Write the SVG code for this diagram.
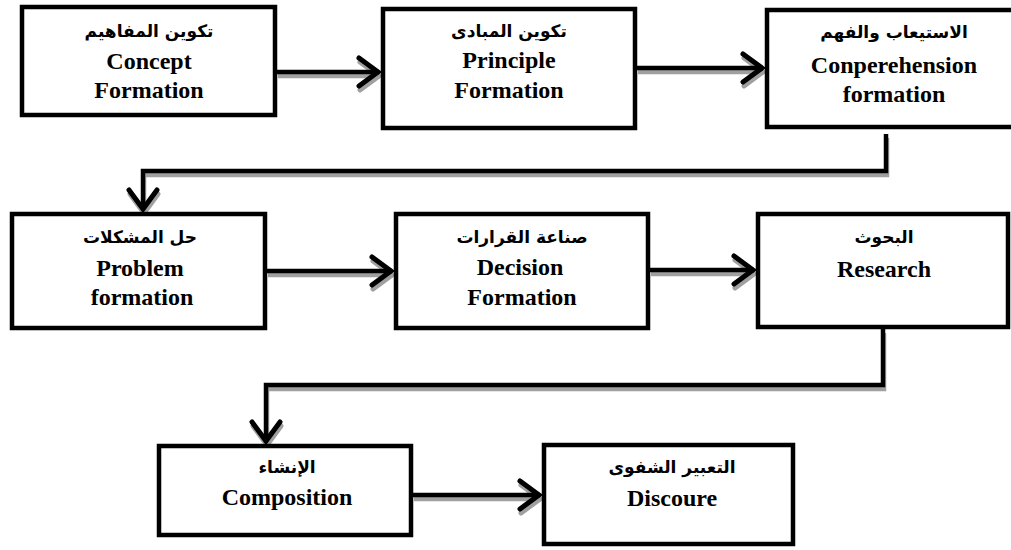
<svg xmlns="http://www.w3.org/2000/svg" width="1011" height="550" viewBox="0 0 1011 550">
<style>
.box{fill:#fff;stroke:#000;stroke-width:4.5}
.en{font-family:'Liberation Serif',Tinos,'Times New Roman','DejaVu Serif',serif;font-weight:bold;font-size:24px;text-anchor:middle;fill:#000}
.ar{font-family:'DejaVu Sans','Noto Sans',sans-serif;font-weight:bold;font-size:17px;text-anchor:middle;fill:#000}
.ln{fill:none;stroke:#000;stroke-width:4.5}
.sh{fill:none;stroke:#a0a0a0;stroke-width:4.5}
</style>
<defs>
<marker id="ah" markerUnits="userSpaceOnUse" orient="auto" markerWidth="30" markerHeight="34" refX="24" refY="17" viewBox="0 0 30 34">
<path d="M4,3 L23,17 L4,31" fill="none" stroke="#000" stroke-width="5" stroke-linecap="round" stroke-linejoin="miter"/>
</marker>
<marker id="ahs" markerUnits="userSpaceOnUse" orient="auto" markerWidth="30" markerHeight="34" refX="24" refY="17" viewBox="0 0 30 34">
<path d="M4,3 L23,17 L4,31" fill="none" stroke="#a0a0a0" stroke-width="5" stroke-linecap="round"/>
</marker>
</defs>
<rect width="1011" height="550" fill="#fff"/>
<g id="connectors">
<g transform="translate(1,4)">
<path class="sh" d="M277,72 H379" marker-end="url(#ahs)"/>
<path class="sh" d="M637,68 H763" marker-end="url(#ahs)"/>
<path class="sh" d="M886,134 V171 H143 V210" marker-end="url(#ahs)"/>
<path class="sh" d="M267,271 H392" marker-end="url(#ahs)"/>
<path class="sh" d="M650,270 H754" marker-end="url(#ahs)"/>
<path class="sh" d="M883,329 V385 H266 V442" marker-end="url(#ahs)"/>
<path class="sh" d="M413,495 H540" marker-end="url(#ahs)"/>
</g>
<path class="ln" d="M277,72 H379" marker-end="url(#ah)"/>
<path class="ln" d="M637,68 H763" marker-end="url(#ah)"/>
<path class="ln" d="M886,134 V171 H143 V210" marker-end="url(#ah)"/>
<path class="ln" d="M267,271 H392" marker-end="url(#ah)"/>
<path class="ln" d="M650,270 H754" marker-end="url(#ah)"/>
<path class="ln" d="M883,329 V385 H266 V442" marker-end="url(#ah)"/>
<path class="ln" d="M413,495 H540" marker-end="url(#ah)"/>
</g>
<g id="n1">
<rect class="box" x="22" y="7" width="253" height="108"/>
<text class="ar" x="149" y="37" direction="rtl">تكوين المفاهيم</text>
<text class="en" x="149" y="69">Concept</text>
<text class="en" x="149" y="98">Formation</text>
</g>
<g id="n2">
<rect class="box" x="383" y="9" width="252" height="119"/>
<text class="ar" x="509" y="37" direction="rtl">تكوين المبادى</text>
<text class="en" x="509" y="68">Principle</text>
<text class="en" x="509" y="98">Formation</text>
</g>
<g id="n3">
<rect class="box" x="767" y="10" width="254" height="117"/>
<text class="ar" x="894" y="38" direction="rtl">الاستيعاب والفهم</text>
<text class="en" x="894" y="73">Conperehension</text>
<text class="en" x="894" y="102">formation</text>
</g>
<g id="n4">
<rect class="box" x="12" y="214" width="253" height="114"/>
<text class="ar" x="140" y="243" direction="rtl">حل المشكلات</text>
<text class="en" x="140" y="276">Problem</text>
<text class="en" x="142" y="305">formation</text>
</g>
<g id="n5">
<rect class="box" x="396" y="214" width="252" height="114"/>
<text class="ar" x="522" y="243" direction="rtl">صناعة القرارات</text>
<text class="en" x="520" y="275">Decision</text>
<text class="en" x="522" y="305">Formation</text>
</g>
<g id="n6">
<rect class="box" x="758" y="214" width="250" height="113"/>
<text class="ar" x="884" y="243" direction="rtl">البحوث</text>
<text class="en" x="884" y="277">Research</text>
</g>
<g id="n7">
<rect class="box" x="159" y="446" width="252" height="89"/>
<text class="ar" x="287" y="473" direction="rtl">الإنشاء</text>
<text class="en" x="287" y="505">Composition</text>
</g>
<g id="n8">
<rect class="box" x="544" y="445" width="249" height="99"/>
<text class="ar" x="672" y="473" direction="rtl">التعبير الشفوى</text>
<text class="en" x="672" y="506">Discoure</text>
</g>
</svg>
